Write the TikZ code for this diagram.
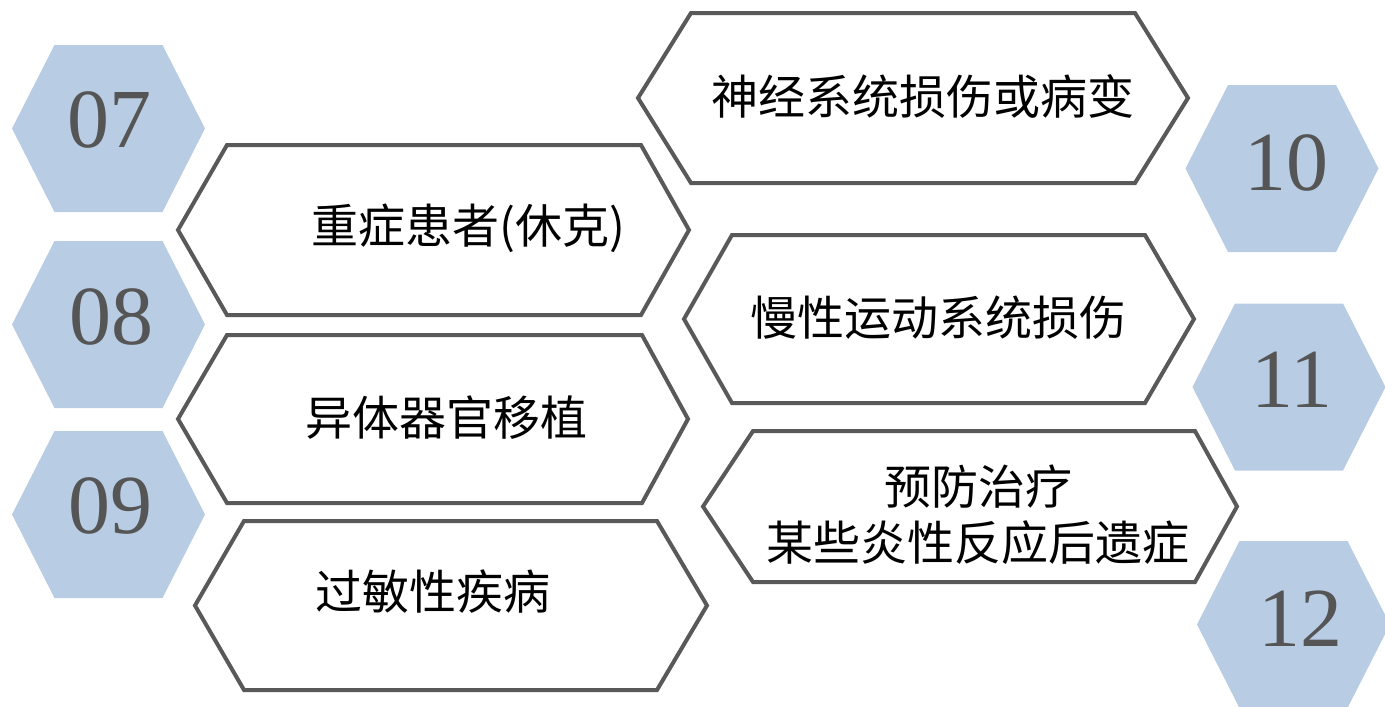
\documentclass[tikz,border=0pt]{standalone}
\usepackage{fontspec}
\newfontfamily\cjk{Noto Sans CJK SC}
\newfontfamily\numfont{Liberation Serif}
\definecolor{hexblue}{RGB}{184,204,228}
\definecolor{numgray}{RGB}{85,85,85}
\definecolor{linegray}{RGB}{89,89,89}
\tikzset{
  hexfill/.style={fill=hexblue},
  boxline/.style={draw=linegray, line width=4pt, fill=white, line join=miter},
  numtext/.style={inner sep=0pt, text=numgray, font=\numfont\fontsize{84}{90}\selectfont},
  boxtext/.style={inner sep=0pt, text=black, align=center, font=\cjk\fontsize{47}{56}\selectfont}
}
% blue hexagon: center x, center y
\newcommand{\bluehexa}[2]{%
  \path[hexfill] ({#1-96.5},{#2}) -- ({#1-54},{#2-83.5}) -- ({#1+54},{#2-83.5})
    -- ({#1+96.5},{#2}) -- ({#1+54},{#2+83.5}) -- ({#1-54},{#2+83.5}) -- cycle;}
% outlined hexagon: left, right, top, bottom, left indent, right indent
\newcommand{\outhexa}[6]{%
  \path[boxline] ({#1},{(#3+#4)/2}) -- ({#1+#5},{#3}) -- ({#2-#6},{#3})
    -- ({#2},{(#3+#4)/2}) -- ({#2-#6},{#4}) -- ({#1+#5},{#4}) -- cycle;}
\begin{document}
\begin{tikzpicture}[x=1pt,y=-1pt]
\useasboundingbox (0,0) rectangle (1385,707);
\begin{scope}
\clip (0,0) rectangle (1385,707);
% blue number hexagons
\bluehexa{108.5}{128.5}
\bluehexa{108.5}{324.5}
\bluehexa{108.5}{514.5}
\bluehexa{1282}{168.5}
\bluehexa{1289}{387}
\bluehexa{1293.5}{624.5}
\end{scope}
\node[numtext] (n07) at (109,120) {07};
\node[numtext] (n08) at (111,317) {08};
\node[numtext] (n09) at (110,506) {09};
\node[numtext] (n10) at (1286,163) {10};
\node[numtext] (n11) at (1292,380) {11};
\node[numtext] (n12) at (1300,619) {12};
% outlined text hexagons
\outhexa{638}{1188}{13}{183}{53}{53}
\outhexa{178}{689}{145}{315}{49}{48}
\outhexa{684}{1194}{235}{403}{48}{49}
\outhexa{178}{688}{335}{503}{49}{46}
\outhexa{703}{1237}{431}{582}{50}{42}
\outhexa{195}{707}{521}{690}{49}{50}
\node[boxtext] (ta) at (923,97) {神经系统损伤或病变};
\node[boxtext] (tb) at (468,228) {重症患者(休克)};
\node[boxtext] (tc) at (938,318) {慢性运动系统损伤};
\node[boxtext] (td) at (446,418) {异体器官移植};
\node[boxtext] (te) at (978,515) {预防治疗\\某些炎性反应后遗症};
\node[boxtext] (tf) at (433,592) {过敏性疾病};
\end{tikzpicture}
\end{document}
